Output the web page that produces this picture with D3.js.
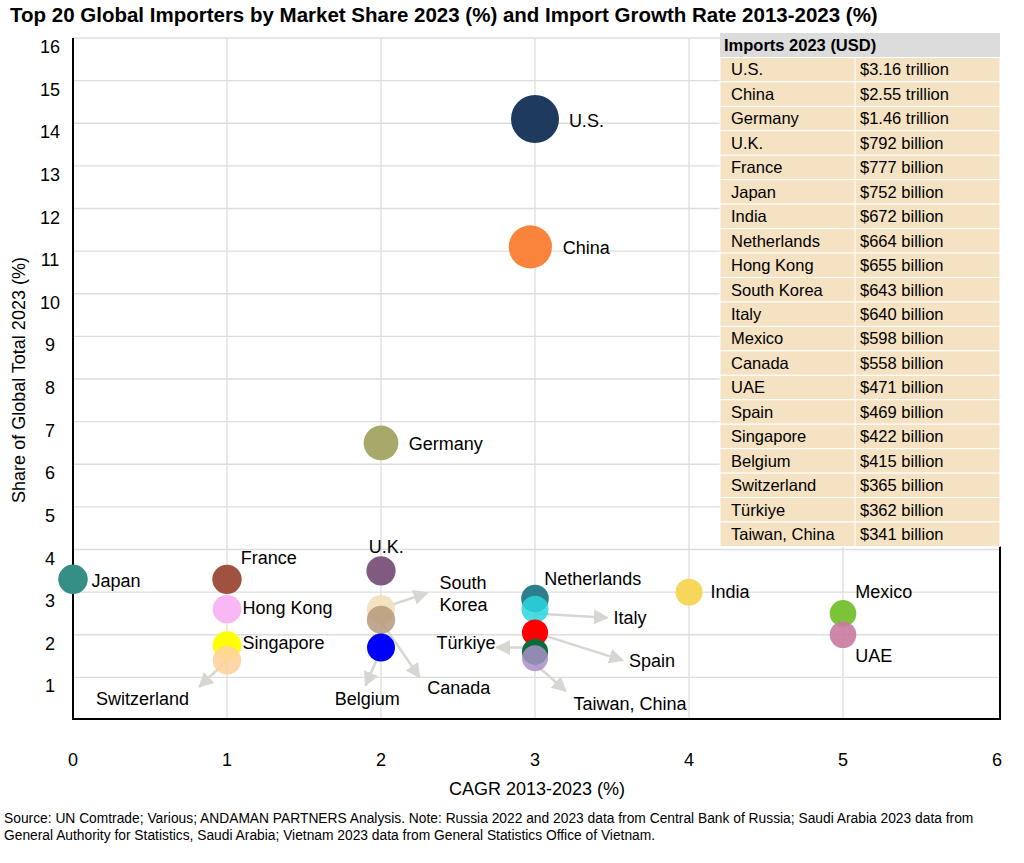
<!DOCTYPE html>
<html><head><meta charset="utf-8">
<script src="https://cdn.jsdelivr.net/npm/d3@7"></script>
<style>body{margin:0;background:#fff;font-family:Arial,"Liberation Sans",sans-serif}</style>
</head><body><svg id="c" width="1024" height="863"></svg>
<script>
const countries=["U.S.","China","Germany","Japan","France","U.K.","Hong Kong","Singapore","Switzerland","South Korea","Canada","Belgium","Netherlands","Italy","India","Mexico","UAE","Spain","Türkiye","Taiwan, China"];
const cagr=[3,2.97,2,0,1,2,1,1,1,2,2,2,3,3,4,5,5,3,3,3];
const share=[14.1,11.1,6.5,3.3,3.3,3.5,2.6,1.75,1.4,2.6,2.35,1.7,2.85,2.6,3.0,2.5,2.0,2.05,1.6,1.45];
const importsB=[3160,2550,1460,792,777,752,672,664,655,643,640,598,558,471,469,422,415,365,362,341];
const colors=["#1e3a5f","#fb843d","#a6a96a","#358f86","#a0513f","#815a80","#f9b8f5","#ffff00","#fed3a0","#f3e0bd","#b59a7a","#0000ff","#2e7f8d","#29d6dd","#f7d65c","#7bc43a","#c97aa0","#ff0000","#0b6b3a","#a98fc8"];
const alphas=[1,1,1,1,1,1,1,1,0.9,0.9,0.85,1,1,0.85,1,1,0.9,1,1,0.85];
const tableNames=["U.S.","China","Germany","U.K.","France","Japan","India","Netherlands","Hong Kong","South Korea","Italy","Mexico","Canada","UAE","Spain","Singapore","Belgium","Switzerland","Türkiye","Taiwan, China"];
const tableValues=["$3.16 trillion","$2.55 trillion","$1.46 trillion","$792 billion","$777 billion","$752 billion","$672 billion","$664 billion","$655 billion","$643 billion","$640 billion","$598 billion","$558 billion","$471 billion","$469 billion","$422 billion","$415 billion","$365 billion","$362 billion","$341 billion"];
const xTicks=[0,1,2,3,4,5,6];
const yTicks=[1,2,3,4,5,6,7,8,9,10,11,12,13,14,15,16];
const labelX=[3.22,3.18,2.18,0.12,1.09,1.92,1.1,1.1,0.15,2.38,2.3,1.7,3.06,3.51,4.14,5.08,5.08,3.61,2.36,3.25];
const labelY=[14.05,11.07,6.47,3.27,3.8,4.05,2.62,1.8,0.49,3.1,0.75,0.5,3.3,2.4,3.0,3.0,1.5,1.38,1.8,0.37];
const labelLines=[null,null,null,null,null,null,null,null,null,["South","Korea"],null,null,null,null,null,null,null,null,null,null];
const arrowFrom=[null,null,null,null,null,null,null,null,[1,1.4],[2,2.62],[2,2.32],[2,1.65],null,[3,2.5],null,null,null,[3,2.05],[3,1.7],[3,1.32]];
const arrowTo=[null,null,null,null,null,null,null,null,[0.82,0.78],[2.3,2.98],[2.25,1.0],[1.9,0.81],null,[3.47,2.4],null,null,null,[3.57,1.4],[2.75,1.7],[3.2,0.68]];

const svg=d3.select("#c");
const x=d3.scaleLinear().domain([0,6]).range([73,997]);
const y=d3.scaleLinear().domain([0,16]).range([720,38]);
const r=d3.scaleLinear().domain([341,3160]).range([13,24]);
svg.append("text").attr("x",10).attr("y",22).attr("font-size",20.5).attr("font-weight","bold").text("Top 20 Global Importers by Market Share 2023 (%) and Import Growth Rate 2013-2023 (%)");
const g=svg.append("g");
xTicks.forEach(t=>{ if(t>0&&t<6) g.append("line").attr("x1",x(t)).attr("x2",x(t)).attr("y1",y(16)).attr("y2",720).attr("stroke","#ddd").attr("stroke-width",1.3);});
yTicks.forEach(t=>g.append("line").attr("x1",73).attr("x2",1000).attr("y1",y(t)).attr("y2",y(t)).attr("stroke","#ddd").attr("stroke-width",1.3));
g.append("line").attr("x1",73).attr("x2",73).attr("y1",y(16)).attr("y2",720).attr("stroke","#000").attr("stroke-width",2);
g.append("line").attr("x1",72).attr("x2",1001).attr("y1",719).attr("y2",719).attr("stroke","#000").attr("stroke-width",2);
g.append("line").attr("x1",1000).attr("x2",1000).attr("y1",546).attr("y2",720).attr("stroke","#000").attr("stroke-width",2);
yTicks.forEach(t=>g.append("text").attr("x",50).attr("y",y(t)+15).attr("text-anchor","middle").attr("font-size",18).text(t));
xTicks.forEach(t=>g.append("text").attr("x",x(t)).attr("y",766).attr("text-anchor","middle").attr("font-size",18).text(t));
svg.append("text").attr("x",537).attr("y",795).attr("text-anchor","middle").attr("font-size",18).text("CAGR 2013-2023 (%)");
svg.append("text").attr("transform","translate(25,380) rotate(-90)").attr("text-anchor","middle").attr("font-size",18).text("Share of Global Total 2023 (%)");
const tx=720,tw=280,tc=855,ty=33,rh=24.45;
svg.append("rect").attr("x",tx).attr("y",ty).attr("width",tw).attr("height",rh).attr("fill","#dcdcdc");
svg.append("text").attr("x",tx+4).attr("y",ty+18).attr("font-size",16.5).attr("font-weight","bold").text("Imports 2023 (USD)");
tableNames.forEach((n,i)=>{
  const yy=ty+rh*(i+1);
  svg.append("rect").attr("x",tx).attr("y",yy).attr("width",tw).attr("height",rh).attr("fill","#f5e2c2").attr("stroke","#fff").attr("stroke-width",1);
  svg.append("line").attr("x1",tc).attr("x2",tc).attr("y1",yy).attr("y2",yy+rh).attr("stroke","#fff");
  svg.append("text").attr("x",tx+11).attr("y",yy+18).attr("font-size",16.5).text(n);
  svg.append("text").attr("x",tc+5).attr("y",yy+18).attr("font-size",16.5).text(tableValues[i]);
});
svg.append("defs").append("marker").attr("id","ah").attr("viewBox","0 0 10 10").attr("refX",9).attr("refY",5).attr("markerWidth",6).attr("markerHeight",6).attr("orient","auto")
 .append("path").attr("d","M0,0L10,5L0,10z").attr("fill","#d6d6d2");
countries.forEach((c,i)=>{ if(arrowFrom[i]) svg.append("line").attr("x1",x(arrowFrom[i][0])).attr("y1",y(arrowFrom[i][1])).attr("x2",x(arrowTo[i][0])).attr("y2",y(arrowTo[i][1])).attr("stroke","#d6d6d2").attr("stroke-width",2.5).attr("marker-end","url(#ah)");});
svg.selectAll("circle.b").data(d3.range(countries.length)).join("circle").attr("cx",i=>x(cagr[i])).attr("cy",i=>y(share[i])).attr("r",i=>r(importsB[i])).attr("fill",i=>colors[i]).attr("fill-opacity",i=>alphas[i]);
countries.forEach((c,i)=>{
  const t=svg.append("text").attr("x",x(labelX[i])).attr("y",y(labelY[i])+6).attr("font-size",18);
  if(labelLines[i]){ labelLines[i].forEach((s,k)=>t.append("tspan").attr("x",x(labelX[i])).attr("dy",k?22:-5).text(s)); }
  else t.text(c);
});
svg.append("text").attr("x",4).attr("y",823).attr("font-size",13.8).text("Source: UN Comtrade; Various; ANDAMAN PARTNERS Analysis. Note: Russia 2022 and 2023 data from Central Bank of Russia; Saudi Arabia 2023 data from");
svg.append("text").attr("x",4).attr("y",840).attr("font-size",13.8).text("General Authority for Statistics, Saudi Arabia; Vietnam 2023 data from General Statistics Office of Vietnam.");
</script></body></html>
